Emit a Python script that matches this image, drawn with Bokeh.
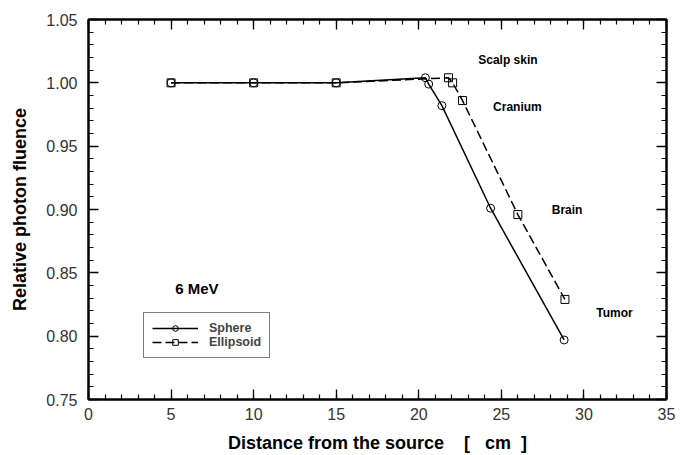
import numpy as np
from bokeh.plotting import figure
from bokeh.models import (LinearAxis, FixedTicker, Legend, LegendItem, Range1d,
                          PrintfTickFormatter, ColumnDataSource, CustomJSTickFormatter)
from bokeh.core.properties import value
from bokeh.embed import file_html
from bokeh.resources import INLINE

# ---------------- data ----------------
sphere_x = [5, 10, 15, 20.4, 20.6, 21.4, 24.35, 28.8]
sphere_y = [1.000, 1.000, 1.000, 1.004, 0.999, 0.982, 0.901, 0.797]
ellipsoid_x = [5, 10, 15, 21.8, 22.05, 22.65, 26.0, 28.85]
ellipsoid_y = [1.000, 1.000, 1.000, 1.004, 1.000, 0.986, 0.896, 0.829]

x_ticks = [0, 5, 10, 15, 20, 25, 30, 35]
y_ticks = [0.75, 0.80, 0.85, 0.90, 0.95, 1.00, 1.05]

region_labels = ["Scalp skin", "Cranium", "Brain", "Tumor"]
energy_label = ["6 MeV"]

NB = "\u00a0"
x_title = "Distance from the source" + NB * 4 + "[" + NB * 3 + "cm" + NB * 2 + "]"
y_title = "Relative photon fluence"

# ---------------- layout / positions ----------------
region_x = [23.6, 24.5, 28.05, 30.75]
region_y = [1.018, 0.981, 0.900, 0.818]
energy_x = [5.25]
energy_y = [0.8375]

FONT = "Liberation Sans"

p = figure(width=677, height=455, output_backend="svg", toolbar_location=None,
           x_range=Range1d(0, 35), y_range=Range1d(0.75, 1.05),
           min_border_left=88, min_border_right=11, min_border_top=19,
           min_border_bottom=56, x_axis_label=x_title, y_axis_label=y_title)
p.xgrid.visible = False
p.ygrid.visible = False
p.outline_line_color = "black"
p.outline_line_width = 2
p.background_fill_color = "white"
p.border_fill_color = "white"

x_minor = list(np.arange(0, 35.01, 1.0))
y_minor = list(np.round(np.arange(0.75, 1.0501, 0.01), 2))
xt = FixedTicker(ticks=x_ticks, minor_ticks=x_minor)
yt = FixedTicker(ticks=y_ticks, minor_ticks=y_minor)

blank = CustomJSTickFormatter(code="return '';")
p.add_layout(LinearAxis(formatter=blank), "above")
p.add_layout(LinearAxis(formatter=blank), "right")

for ax in p.xaxis:
    ax.ticker = xt
for ax in p.yaxis:
    ax.ticker = yt
p.left[0].formatter = PrintfTickFormatter(format="%.2f")

for ax in p.axis:
    ax.axis_line_width = 2
    ax.axis_line_color = "black"
    ax.major_tick_in = 10
    ax.major_tick_out = 0
    ax.minor_tick_in = 5
    ax.minor_tick_out = 0
    ax.major_tick_line_width = 1.3
    ax.minor_tick_line_width = 1.2
    ax.major_tick_line_color = "black"
    ax.minor_tick_line_color = "black"
    ax.major_label_text_font = FONT
    ax.major_label_text_font_size = "16px"
    ax.major_label_text_color = "#333333"
    ax.axis_label_text_font = FONT
    ax.axis_label_text_font_style = "bold"
    ax.axis_label_text_font_size = "18px"
    ax.axis_label_text_color = "black"

for ax in (p.above[0], p.right[0]):
    ax.major_label_standoff = 0
    ax.axis_label = None

p.below[0].major_label_standoff = 8
p.below[0].axis_label_standoff = 10
p.left[0].major_label_standoff = 11
p.left[0].axis_label_standoff = 13

# ---------------- series ----------------
l1 = p.line(sphere_x, sphere_y, line_color="black", line_width=1.5)
s1 = p.scatter(sphere_x, sphere_y, marker="circle", size=8, fill_color=None,
               line_color="black", line_width=1)
l2 = p.line(ellipsoid_x, ellipsoid_y, line_color="black", line_width=1.5,
            line_dash="9 4")
s2 = p.scatter(ellipsoid_x, ellipsoid_y, marker="square", size=8, fill_color=None,
               line_color="black", line_width=1)

# ---------------- annotations ----------------
src = ColumnDataSource(dict(x=region_x, y=region_y, t=region_labels))
p.text(x="x", y="y", text="t", source=src, text_font=value(FONT),
       text_font_style="bold", text_font_size="12px", text_baseline="middle",
       text_align="left", text_color="black")
src2 = ColumnDataSource(dict(x=energy_x, y=energy_y, t=energy_label))
p.text(x="x", y="y", text="t", source=src2, text_font=value(FONT),
       text_font_style="bold", text_font_size="15px", text_baseline="middle",
       text_align="left", text_color="black")

legend = Legend(items=[LegendItem(label="Sphere", renderers=[l1, s1]),
                       LegendItem(label="Ellipsoid", renderers=[l2, s2])],
                location=(55, 41))
legend.border_line_color = "black"
legend.border_line_width = 1
legend.background_fill_color = "white"
legend.background_fill_alpha = 1
legend.label_text_font = FONT
legend.label_text_font_style = "bold"
legend.label_text_font_size = "12.5px"
legend.glyph_width = 46
legend.glyph_height = 14
legend.label_height = 14
legend.label_standoff = 11
legend.padding = 8
legend.spacing = 0
legend.margin = 0
p.add_layout(legend)

open("out.html", "w").write(file_html(p, INLINE))
